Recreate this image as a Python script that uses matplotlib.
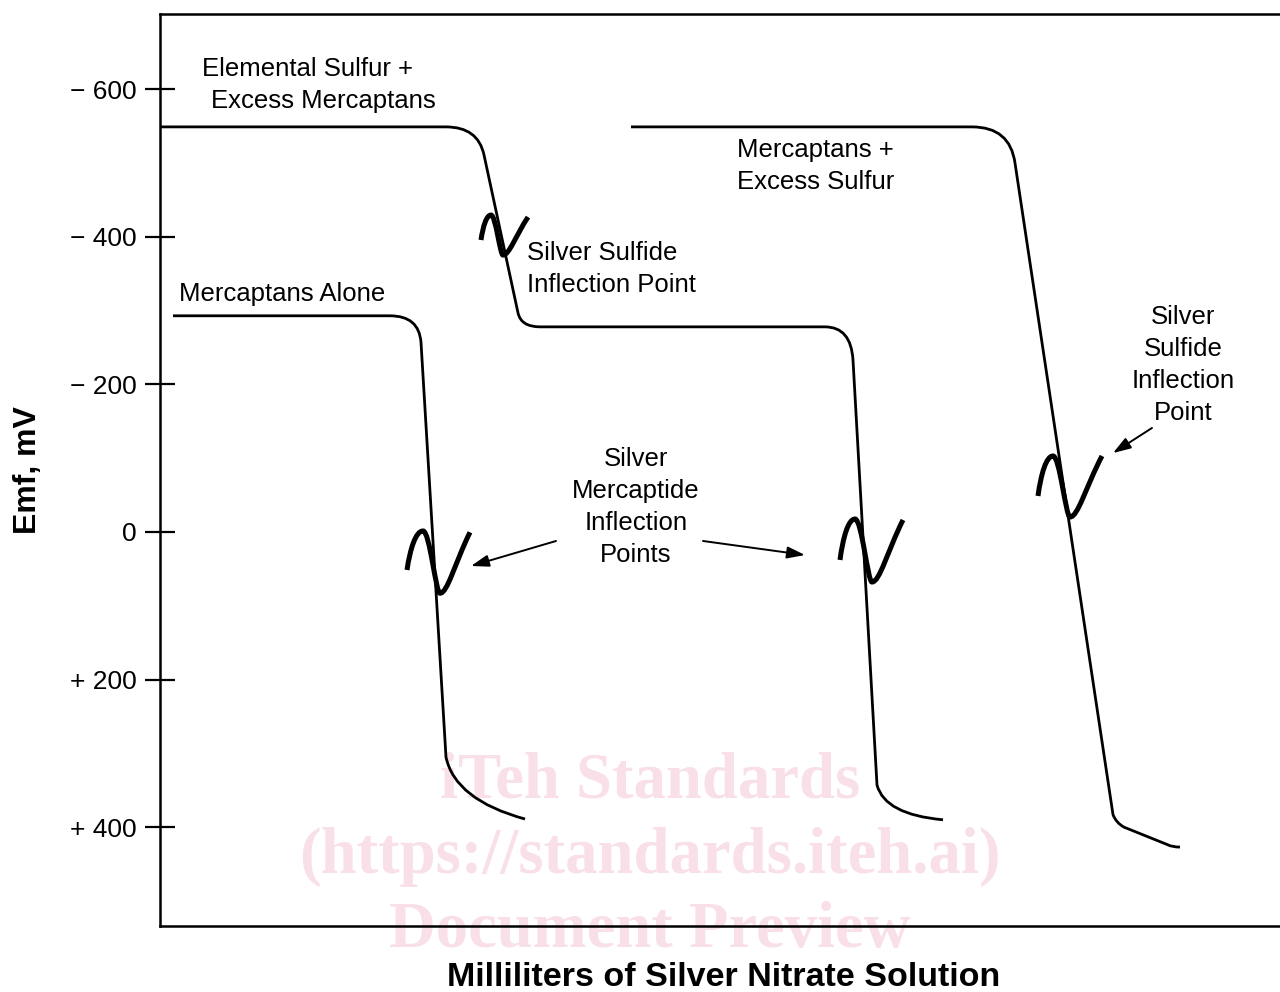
import matplotlib
matplotlib.use("Agg")
import matplotlib.pyplot as plt
from matplotlib.path import Path
from matplotlib.patches import PathPatch

# ---------------- data ----------------
# y axis: Emf in mV (negative at top); x axis: arbitrary mL scale (no ticks)
ytick_values = [-600, -400, -200, 0, 200, 400]
ytick_labels = ["\u2212 600", "\u2212 400", "\u2212 200", "0", "+ 200", "+ 400"]

# Titration curves: vertices with path codes (M=move, L=line, Q=quadratic ctrl/end)
alone_x = [1.3, 23.0, 25.9, 26.1, 28.6, 29.5, 36.5]
alone_emf = [-293, -293, -293, -257, 305, 363, 389]
alone_codes = ["M", "L", "Q", "Q", "L", "Q", "Q"]

sulfur_excess_merc_x = [0.0, 28.6, 31.8, 32.4, 35.8, 36.1, 38.0, 66.5, 69.1, 69.3, 71.7, 72.5, 78.3]
sulfur_excess_merc_emf = [-549, -549, -549, -511, -297, -278, -278, -278, -278, -233, 343, 383, 390]
sulfur_excess_merc_codes = ["M", "L", "Q", "Q", "L", "Q", "Q", "L", "Q", "Q", "L", "Q", "Q"]

merc_excess_sulfur_x = [47.1, 81.2, 85.0, 85.5, 95.3, 95.6, 96.4, 100.8, 101.2, 102.0]
merc_excess_sulfur_emf = [-549, -549, -549, -500, 383, 394, 400, 424, 427, 427]
merc_excess_sulfur_codes = ["M", "L", "Q", "Q", "L", "Q", "Q", "L", "Q", "Q"]

# Inflection squiggles: start, peak, trough, end
squiggle_x = [[24.7, 26.3, 28.0, 31.0],
              [32.1, 33.1, 34.3, 36.8],
              [68.0, 69.5, 71.2, 74.3],
              [87.8, 89.3, 91.0, 94.2]]
squiggle_emf = [[51.5, -1.4, 83.0, 0.4],
                [-395.7, -429.5, -375.3, -426.8],
                [37.9, -17.6, 67.8, -16.3],
                [-48.8, -103.0, -20.3, -103.0]]

# Arrows: tail -> head
arrow_tail_x = [39.6, 54.3, 99.2]
arrow_tail_emf = [12.2, 12.2, -141.0]
arrow_head_x = [31.1, 64.5, 95.3]
arrow_head_emf = [46.1, 31.2, -107.0]

# ---------------- figure ----------------
FONT = "Liberation Sans"
fig = plt.figure(figsize=(12.8, 9.92), dpi=100)
ax = fig.add_axes([0.125, 0.0665, 0.875, 0.9194])
ax.patch.set_alpha(0)
ax.set_xlim(0, 112)
ax.set_ylim(534, -702)

for s in ["left", "top", "bottom"]:
    ax.spines[s].set_linewidth(1.8)
ax.spines["right"].set_visible(False)

ax.set_yticks(ytick_values)
ax.set_yticklabels(ytick_labels, fontsize=19, family=FONT)
ax.tick_params(axis="y", direction="inout", length=22, width=1.6, pad=5.5)
ax.tick_params(axis="x", bottom=False, labelbottom=False)

code_map = {"M": Path.MOVETO, "L": Path.LINETO, "Q": Path.CURVE3, "C": Path.CURVE4}


def draw_curve(xs, ys, codes, lw=2.0):
    path = Path(list(zip(xs, ys)), [code_map[c] for c in codes])
    ax.add_patch(PathPatch(path, facecolor="none", edgecolor="black", lw=lw,
                           capstyle="butt", joinstyle="round", zorder=3))


draw_curve(alone_x, alone_emf, alone_codes)
draw_curve(sulfur_excess_merc_x, sulfur_excess_merc_emf, sulfur_excess_merc_codes)
draw_curve(merc_excess_sulfur_x, merc_excess_sulfur_emf, merc_excess_sulfur_codes)

# squiggles built as cubic Beziers through start/peak/trough/end
for xs, ys in zip(squiggle_x, squiggle_emf):
    (sx, px_, tx, ex) = xs
    (sy, py_, ty, ey) = ys
    d1x, d1y = px_ - sx, py_ - sy
    d2x = tx - px_
    d3x, d3y = ex - tx, ey - ty
    verts = [(sx, sy),
             (sx + 0.2 * d1x, sy + 0.55 * d1y), (px_ - 0.45 * d1x, py_), (px_, py_),
             (px_ + 0.4 * d2x, py_), (tx - 0.25 * d2x, ty), (tx, ty),
             (tx + 0.25 * d3x, ty), (tx + 0.5 * d3x, ty + 0.5 * d3y), (ex, ey)]
    codes = [Path.MOVETO] + [Path.CURVE4] * 9
    ax.add_patch(PathPatch(Path(verts, codes), facecolor="none", edgecolor="black",
                           lw=3.6, capstyle="butt", zorder=4))

for tx_, ty_, hx, hy in zip(arrow_tail_x, arrow_tail_emf, arrow_head_x, arrow_head_emf):
    ax.annotate("", xy=(hx, hy), xytext=(tx_, ty_),
                arrowprops=dict(arrowstyle="-|>,head_length=0.6,head_width=0.2",
                                mutation_scale=18, lw=1.4, color="black",
                                shrinkA=0, shrinkB=0), zorder=4)

# ---------------- annotations ----------------
tkw = dict(fontsize=18.5, family=FONT, color="black", va="center", zorder=5)
ax.text(4.2, -627, "Elemental Sulfur +", ha="left", **tkw)
ax.text(5.1, -584, "Excess Mercaptans", ha="left", **tkw)
ax.text(1.9, -322, "Mercaptans Alone", ha="left", **tkw)
ax.text(36.7, -378, "Silver Sulfide", ha="left", **tkw)
ax.text(36.7, -335, "Inflection Point", ha="left", **tkw)
ax.text(57.7, -517, "Mercaptans +", ha="left", **tkw)
ax.text(57.7, -474, "Excess Sulfur", ha="left", **tkw)

line_step = 43.4
for i, line in enumerate(["Silver", "Sulfide", "Inflection", "Point"]):
    ax.text(102.3, -292 + i * line_step, line, ha="center", **tkw)
for i, line in enumerate(["Silver", "Mercaptide", "Inflection", "Points"]):
    ax.text(47.6, -99 + i * line_step, line, ha="center", **tkw)

# axis titles
fig.text(28 / 1280, 1 - 470 / 992, "Emf, mV", rotation=90, ha="center", va="center",
         fontsize=23, fontweight="bold", family=FONT)
fig.text(724 / 1280, 1 - 978 / 992, "Milliliters of Silver Nitrate Solution",
         ha="center", va="center", fontsize=24.5, fontweight="bold", family=FONT)

# watermark
wkw = dict(ha="center", va="center", fontsize=46.5, fontweight="bold",
           family="Liberation Serif", color="#f9dfe8", zorder=0.5, clip_on=False)
ax.text(49.0, 338, "iTeh Standards", **wkw)
ax.text(49.0, 441, "(https://standards.iteh.ai)", **wkw)
ax.text(49.0, 541, "Document Preview", **wkw)

fig.savefig("out.png", dpi=100)
